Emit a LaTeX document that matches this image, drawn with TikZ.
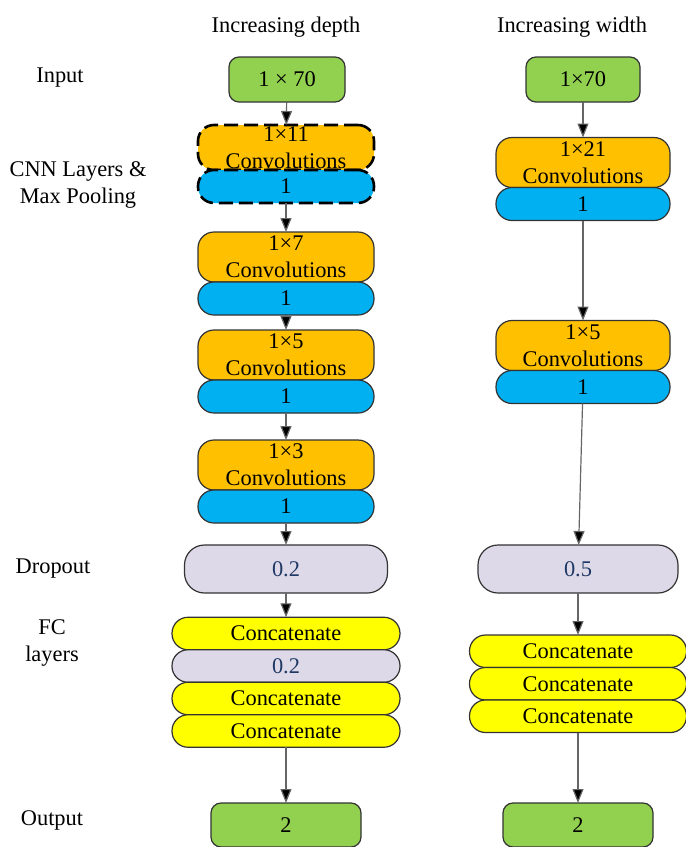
\documentclass[tikz,border=0pt]{standalone}
\usepackage{fontspec}
\setmainfont{Liberation Serif}
\usepackage{color}
\definecolor{iogreen}{RGB}{146,208,80}
\definecolor{convorange}{RGB}{255,192,0}
\definecolor{poolblue}{RGB}{0,176,240}
\definecolor{droplilac}{RGB}{221,217,232}
\definecolor{fcyellow}{RGB}{255,255,0}
\definecolor{dropnavy}{RGB}{31,56,100}
\usepackage{tikz}
\usetikzlibrary{arrows.meta,positioning,shapes.geometric}
\tikzstyle{layer}=[draw=black!80,line width=0.6pt,rectangle,rounded corners=8pt,inner sep=0pt,outer sep=0pt,align=center,font=\fontsize{11.2}{13.5}\selectfont]

\begin{document}
\begin{tikzpicture}[
  x=0.5pt,y=-0.5pt,
  iobox/.style={layer,fill=iogreen,rounded corners=5pt,minimum height=22.5pt},
  convbox/.style={layer,fill=convorange,minimum width=88pt,minimum height=25pt},
  poolbox/.style={layer,fill=poolblue,minimum width=88pt,minimum height=16.5pt},
  dropbox/.style={layer,fill=droplilac,rounded corners=10pt,minimum height=24pt,text=dropnavy},
  fcbox/.style={layer,fill=fcyellow,minimum height=16.25pt},
  dropfc/.style={layer,fill=droplilac,minimum height=16.25pt,text=dropnavy},
  firstlayer/.style={draw=black,line width=1.3pt,dash pattern=on 7pt off 3pt},
  arr/.style={draw=black!60,line width=0.6pt,-{Triangle[width=5.5pt,length=7pt,fill=black]}},
  side/.style={align=center,font=\fontsize{11.2}{13.5}\selectfont}
]
\useasboundingbox (0,0) rectangle (686,847);

% headers and row labels
\node[side] (hdepth) at (286,27) {Increasing depth};
\node[side] (hwidth) at (572,27) {Increasing width};
\node[side] (tin)  at (60,78)  {Input};
\node[side] (tcnn) at (78,185) {CNN Layers \&\\Max Pooling};
\node[side] (tdrop) at (53,569) {Dropout};
\node[side] (tfc)  at (52,643) {FC\\layers};
\node[side] (tout) at (52,820) {Output};

% increasing depth
\node[iobox,minimum width=58pt] (lin) at (287,79.5) {1 × 70};
\node[convbox,firstlayer,minimum height=22.5pt] at (286,147.5) (lc1) {1×11\\Convolutions};
\node[poolbox,firstlayer] [below=0pt of lc1] (lp1) {1};
\node[convbox] at (286,257) (lc2) {1×7\\Convolutions};
\node[poolbox] [below=0pt of lc2] (lp2) {1};
\node[convbox] at (286,355) (lc3) {1×5\\Convolutions};
\node[poolbox] [below=0pt of lc3] (lp3) {1};
\node[convbox] at (286,465) (lc4) {1×3\\Convolutions};
\node[poolbox] [below=0pt of lc4] (lp4) {1};
\node[dropbox,minimum width=101.5pt] at (286,569) (ldrop) {0.2};
\node[fcbox,minimum width=114pt] at (286,633.5) (lfc1) {Concatenate};
\node[dropfc,minimum width=114pt] [below=0pt of lfc1] (lfc2) {0.2};
\node[fcbox,minimum width=114pt] [below=0pt of lfc2] (lfc3) {Concatenate};
\node[fcbox,minimum width=114pt] [below=0pt of lfc3] (lfc4) {Concatenate};
\node[iobox,minimum width=75pt,minimum height=22pt] at (286,825) (lout) {2};

\draw[arr] (lin) -- (lc1);
\draw[arr] (lp1) -- (lc2);
\draw[arr] (lp2) -- (lc3);
\draw[arr] (lp3) -- (lc4);
\draw[arr] (lp4) -- (ldrop);
\draw[arr] (ldrop) -- (lfc1);
\draw[arr] (lfc4) -- (lout);

% increasing width
\node[iobox,minimum width=57pt] (rin) at (583,79.5) {1×70};
\node[convbox,minimum width=87pt] at (583,162.5) (rc1) {1×21\\Convolutions};
\node[poolbox,minimum width=87pt] [below=0pt of rc1] (rp1) {1};
\node[convbox,minimum width=87pt] at (583,345.5) (rc2) {1×5\\Convolutions};
\node[poolbox,minimum width=87pt] [below=0pt of rc2] (rp2) {1};
\node[dropbox,minimum width=100pt] at (578,569) (rdrop) {0.5};
\node[fcbox,minimum width=108.5pt] at (578,651.25) (rfc1) {Concatenate};
\node[fcbox,minimum width=108.5pt] [below=0pt of rfc1] (rfc2) {Concatenate};
\node[fcbox,minimum width=108.5pt] [below=0pt of rfc2] (rfc3) {Concatenate};
\node[iobox,minimum width=75pt,minimum height=22pt] at (578,825) (rout) {2};

\draw[arr] (rin) -- (rc1);
\draw[arr] (rp1) -- (rc2);
\draw[arr] (rp2) -- (rdrop);
\draw[arr] (rdrop) -- (rfc1);
\draw[arr] (rfc3) -- (rout);

\end{tikzpicture}
\end{document}
